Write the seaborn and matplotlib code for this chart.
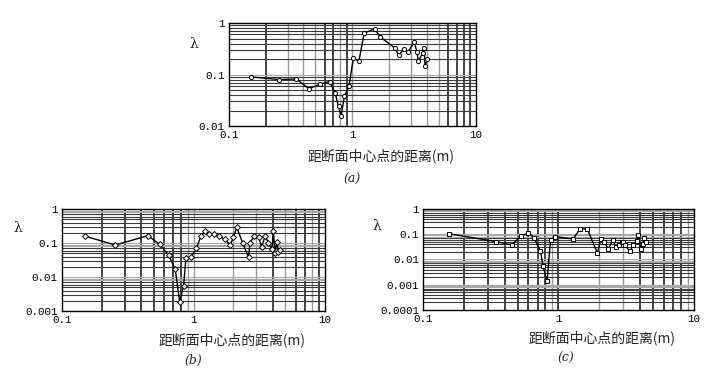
import numpy as np
import pandas as pd
import matplotlib
matplotlib.use("Agg")
import matplotlib.pyplot as plt
import seaborn as sns

sns.set_theme(style="white")
plt.rcParams["font.family"] = ["Noto Sans CJK SC", "DejaVu Sans"]

# ---------------- data ----------------
a_x = [0.151, 0.255, 0.351, 0.445, 0.551, 0.655, 0.726, 0.773, 0.811, 0.863, 0.94,
       1.02, 1.13, 1.25, 1.52, 1.68, 2.20, 2.38, 2.64, 2.81, 3.18, 3.34, 3.43, 3.71,
       3.83, 3.88, 4.07]
a_y = [0.090, 0.080, 0.082, 0.053, 0.065, 0.073, 0.044, 0.024, 0.0156, 0.038, 0.059,
       0.21, 0.18, 0.64, 0.77, 0.54, 0.33, 0.24, 0.31, 0.27, 0.42, 0.28, 0.18, 0.26,
       0.33, 0.145, 0.20]

b_x = [0.149, 0.254, 0.45, 0.553, 0.646, 0.726, 0.784, 0.84, 0.875, 0.96, 1.05,
       1.14, 1.23, 1.32, 1.42, 1.55, 1.74, 1.90, 2.01, 2.13, 2.37, 2.62, 2.69, 2.89,
       3.12, 3.30, 3.50, 3.71, 3.94, 4.05, 4.17, 4.30, 4.42, 4.55]
b_y = [0.16, 0.087, 0.164, 0.091, 0.044, 0.0168, 0.0019, 0.0054, 0.035, 0.038, 0.070,
       0.16, 0.23, 0.19, 0.18, 0.16, 0.128, 0.087, 0.147, 0.29, 0.098, 0.038, 0.102, 0.16,
       0.147, 0.078, 0.16, 0.102, 0.065, 0.22, 0.050, 0.11, 0.056, 0.062]

c_x = [0.155, 0.344, 0.45, 0.533, 0.597, 0.66, 0.736, 0.77, 0.824, 0.873, 0.94,
       1.28, 1.44, 1.63, 1.94, 2.05, 2.17, 2.33, 2.53, 2.65, 2.81, 2.92, 3.01, 3.09,
       3.37, 3.56, 3.77, 3.88, 4.04, 4.18, 4.27, 4.42]
c_y = [0.105, 0.051, 0.038, 0.086, 0.11, 0.074, 0.021, 0.0053, 0.00135, 0.060, 0.081,
       0.065, 0.16, 0.16, 0.018, 0.065, 0.048, 0.026, 0.060, 0.030, 0.036, 0.048, 0.051, 0.036,
       0.021, 0.036, 0.055, 0.089, 0.026, 0.040, 0.070, 0.048]

x_ticks = [0.1, 1, 10]
x_ticklabels = ["0.1", "1", "10"]
a_yticks = [0.01, 0.1, 1]
a_yticklabels = ["0.01", "0.1", "1"]
b_yticks = [0.001, 0.01, 0.1, 1]
b_yticklabels = ["0.001", "0.01", "0.1", "1"]
c_yticks = [0.0001, 0.001, 0.01, 0.1, 1]
c_yticklabels = ["0.0001", "0.001", "0.01", "0.1", "1"]

xlabel_text = "距断面中心点的距离(m)"
ylabel_text = "λ"
captions = ["(a)", "(b)", "(c)"]

# ---------------- figure ----------------
fig = plt.figure(figsize=(7.11, 3.69), dpi=100)
fig.patch.set_facecolor("white")

# left, bottom, width, height in figure fraction
ax_a = fig.add_axes([0.322, 0.6585, 0.347, 0.279])
ax_b = fig.add_axes([0.0872, 0.1572, 0.370, 0.2764])
ax_c = fig.add_axes([0.595, 0.160, 0.381, 0.2737])

tick_font = dict(family=["Liberation Mono", "DejaVu Sans Mono"], size=7.8)

# which vertical grid lines are dark (others grey), per panel
dark_v = {
    "a": {0.2, 0.6, 0.7, 0.9, 6, 7, 8, 9},
    "b": {0.2, 0.3, 0.4, 0.5, 0.6, 0.7, 0.8, 4, 6, 7, 9},
    "c": {0.2, 0.3, 0.4, 0.5, 0.6, 0.7, 0.8, 1, 4, 5, 6, 7, 8},
}


def grid_positions(lo_exp, hi_exp):
    pos = []
    for e in range(lo_exp, hi_exp):
        for m in range(1, 10):
            pos.append(round(m * 10.0 ** e, 8))
    pos.append(round(10.0 ** hi_exp, 8))
    return pos


def draw_panel(ax, key, xs, ys, yticks, yticklabels, marker, ylim_exp):
    # grid
    for v in grid_positions(-1, 1):
        if v in (0.1, 10):
            continue
        dark = any(abs(v - d) < 1e-9 for d in dark_v[key])
        ax.axvline(v, color="#111111" if dark else "#9a9a9a",
                   lw=1.1 if dark else 1.0, zorder=0)
    for v in grid_positions(ylim_exp, 0):
        if v in (10.0 ** ylim_exp, 1):
            continue
        m = v / 10.0 ** np.floor(np.log10(v) + 1e-9)
        grey = (round(m) in (1, 8, 9)) if key != "a" else (round(m) in (1,))
        ax.axhline(v, color="#a8a8a8" if grey else "#3a3a3a", lw=0.8, zorder=0)

    df = pd.DataFrame({"x": xs, "y": ys})
    sns.lineplot(data=df, x="x", y="y", ax=ax, sort=False, estimator=None,
                 color="black", lw=1.0, marker=marker, markersize=3,
                 markerfacecolor="white", markeredgecolor="black",
                 markeredgewidth=0.7, zorder=3)
    ax.set_xscale("log")
    ax.set_yscale("log")
    ax.set_xlim(0.1, 10)
    ax.set_ylim(10.0 ** ylim_exp, 1)
    ax.set_xticks(x_ticks)
    ax.set_xticklabels(x_ticklabels, **tick_font)
    ax.set_yticks(yticks)
    ax.set_yticklabels(yticklabels, **tick_font)
    ax.minorticks_off()
    ax.tick_params(length=0, pad=3, colors="black")
    ax.set_xlabel("")
    ax.set_ylabel("")
    for s in ax.spines.values():
        s.set_color("black")
        s.set_linewidth(1.0)
    ax.set_facecolor("white")


draw_panel(ax_a, "a", a_x, a_y, a_yticks, a_yticklabels, "o", -2)
draw_panel(ax_b, "b", b_x, b_y, b_yticks, b_yticklabels, "D", -3)
draw_panel(ax_c, "c", c_x, c_y, c_yticks, c_yticklabels, "s", -4)

W, H = 711.0, 369.0
lab_font = dict(family=["Noto Sans CJK SC", "DejaVu Sans"], size=10)
cap_font = dict(family=["DejaVu Serif"], size=9, style="italic")

# x labels
fig.text(381 / W, 1 - 156 / H, xlabel_text, ha="center", va="center", **lab_font)
fig.text(232 / W, 1 - 340 / H, xlabel_text, ha="center", va="center", **lab_font)
fig.text(602 / W, 1 - 338 / H, xlabel_text, ha="center", va="center", **lab_font)

# captions
fig.text(352 / W, 1 - 179 / H, captions[0], ha="center", va="center", **cap_font)
fig.text(193 / W, 1 - 360 / H, captions[1], ha="center", va="center", **cap_font)
fig.text(566 / W, 1 - 358 / H, captions[2], ha="center", va="center", **cap_font)

# lambda labels
lam_font = dict(family=["DejaVu Serif"], size=10)
fig.text(194 / W, 1 - 44 / H, ylabel_text, ha="center", va="center", **lam_font)
fig.text(18 / W, 1 - 228 / H, ylabel_text, ha="center", va="center", **lam_font)
fig.text(377 / W, 1 - 226 / H, ylabel_text, ha="center", va="center", **lam_font)

fig.savefig("out.png", dpi=100, facecolor="white")
